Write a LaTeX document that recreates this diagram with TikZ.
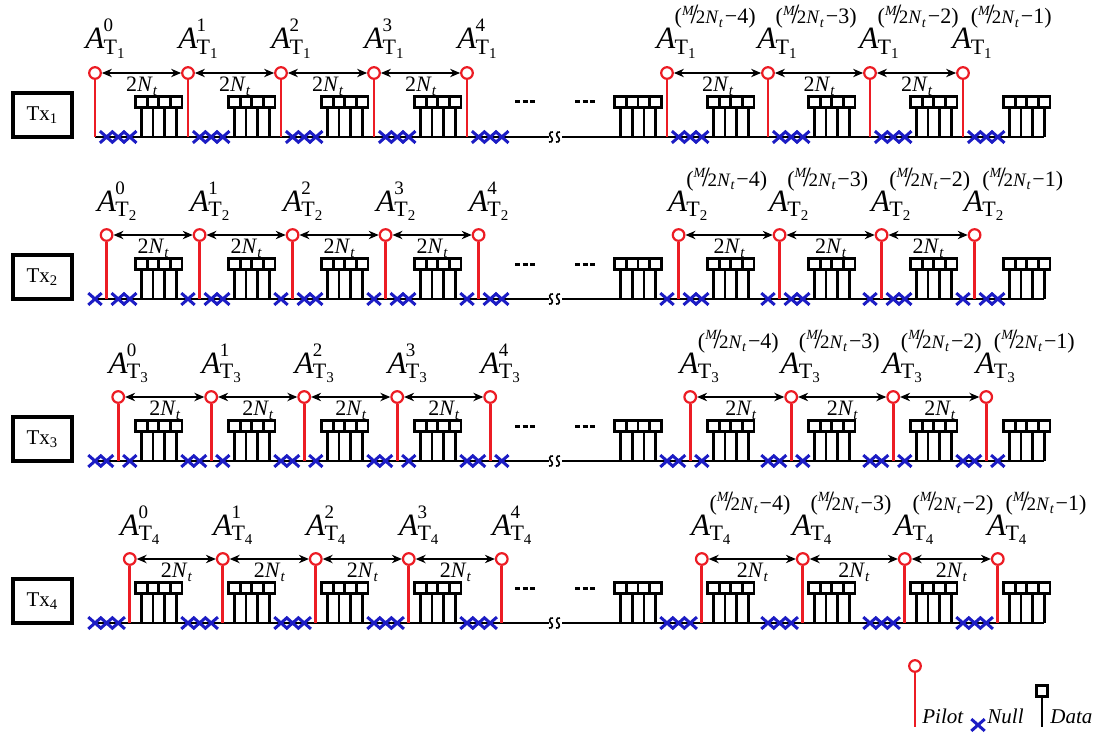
\documentclass[tikz,border=0pt]{standalone}
\usepackage{fontspec}
\setmainfont{Liberation Serif}
\usetikzlibrary{arrows.meta,shapes.misc}

\definecolor{pilotred}{RGB}{236,28,36}
\definecolor{nullblue}{RGB}{28,28,196}

% subscript T_k of the pilot labels
\newcommand{\Tsub}[1]{\raisebox{-2.6pt}{\fontsize{11}{12}\selectfont T\raisebox{-2.2pt}{\fontsize{7.5}{8}\selectfont #1}}}
% A_{T_k}^{j}
\newcommand{\Aleft}[2]{{\fontsize{15.5}{17}\selectfont\itshape A}\kern-0.3pt\rlap{\Tsub{#1}}\raisebox{8.5pt}{\fontsize{9.5}{10}\selectfont #2}}
% M/2N_t
\newcommand{\MtwoN}{\raisebox{4.5pt}{\fontsize{7}{7}\selectfont\itshape M}\kern-1.6pt{\fontsize{14}{14}\selectfont /}\kern-1.2pt{\fontsize{9.5}{10}\selectfont 2\textit{N}\raisebox{-1.6pt}{\fontsize{7}{7}\selectfont\itshape t}}}
% A_{T_k}^{(M/2N_t - j)}
\newcommand{\Aright}[2]{{\fontsize{15.5}{17}\selectfont\itshape A}\kern-0.3pt\rlap{\Tsub{#1}}\raisebox{12.5pt}{\fontsize{11}{12}\selectfont(\MtwoN\kern1pt−#2)}}
\newcommand{\twoN}{{\fontsize{11}{12}\selectfont 2\textit{N}\raisebox{-2.2pt}{\fontsize{7.5}{8}\selectfont\itshape t}}}

\begin{document}
\begin{tikzpicture}[x=0.5pt,y=-0.5pt,
  txbox/.style={draw,line width=2pt,minimum width=29.5pt,minimum height=22pt,inner sep=0pt,font=\fontsize{10.5}{12}\selectfont},
  pilot/.style={circle,draw=pilotred,fill=white,line width=1.1pt,minimum size=5.8pt,inner sep=0pt},
  pilotstem/.style={pilotred,line width=1.4pt},
  nullx/.style={cross out,draw=nullblue,line width=1.5pt,minimum width=5.2pt,minimum height=4.4pt,inner sep=0pt},
  databox/.style={draw,line width=1.4pt,minimum size=5.8pt,inner sep=0pt},
  datastem/.style={line width=1.3pt},
  timeline/.style={line width=0.8pt},
  gaparrow/.style={<->,>={Stealth[length=5pt,width=4.2pt]},line width=0.6pt},
  gapdots/.style={line width=1.5pt,dash pattern=on 2.6pt off 1.2pt},
  lab/.style={anchor=base west,inner sep=0pt},
  legtext/.style={anchor=base west,inner sep=0pt,font=\fontsize{10.5}{12}\selectfont\itshape}]
\useasboundingbox (0,0) rectangle (1102,733);

% one row per transmitter
\foreach \r in {1,2,3,4} {
  \pgfmathsetmacro{\yb}{137+162*(\r-1)}
  \node[txbox] (tx\r) at (42.5,\yb-22) {Tx\textsubscript{\r}};
  \coordinate (base\r) at (95,\yb);
  \coordinate (brk\r) at (555,\yb);
  \coordinate (end\r) at (1044,\yb);
  \draw[timeline] (base\r) -- ([xshift=-3pt]brk\r);
  \draw[timeline] ([xshift=3.5pt]brk\r) -- (end\r);
  \foreach \bx in {551,558} {
    \draw[timeline] (\bx+2,\yb-5) .. controls (\bx-2,\yb-6) and (\bx-2,\yb-1) .. (\bx,\yb)
      .. controls (\bx+2,\yb+1) and (\bx+2,\yb+6) .. (\bx-2,\yb+5);
  }
  \draw[gapdots] (515,\yb-35) -- (535,\yb-35);
  \draw[gapdots] (575,\yb-35) -- (595,\yb-35);
  % data block left of the gap
  \foreach \s in {-4,...,-1} {
    \node[databox] (e\r\s) at (667+11.6*\s,\yb-35) {};
    \draw[datastem] (e\r\s) -- (e\r\s |- base\r);
  }
  % pilot periods
  \foreach \j/\px/\kind/\idx in {0/95/l/0,1/188/l/1,2/281/l/2,3/374/l/3,4/467/l/4,
                                 5/667/r/4,6/768/r/3,7/870/r/2,8/963/r/1} {
    \pgfmathsetmacro{\xp}{\px+11.6*(\r-1)}
    \foreach \s in {0,...,3} {
      \ifnum\s=\numexpr\r-1\relax\else
        \node[nullx] (n\r-\j-\s) at (\px+11.6*\s,\yb) {};
      \fi
    }
    \ifnum\j=4\else
      \foreach \s in {4,...,7} {
        \node[databox] (d\r-\j-\s) at (\px+11.6*\s,\yb-35) {};
        \draw[datastem] (d\r-\j-\s) -- (d\r-\j-\s |- base\r);
      }
    \fi
    \node[pilot] (p\r-\j) at (\xp,\yb-64) {};
    \draw[pilotstem] (p\r-\j) -- (p\r-\j |- base\r);
    \if l\kind
      \node[lab] (a\r-\j) at (\xp-10,\yb-88) {\Aleft{\r}{\idx}};
    \else
      \node[lab] (a\r-\j) at (\xp-11,\yb-88) {\Aright{\r}{\idx}};
    \fi
  }
  \foreach \j [evaluate=\j as \k using int(\j+1)] in {0,1,2,3,5,6,7} {
    \draw[gaparrow] (p\r-\j) -- (p\r-\k)
      node[midway,below=1.5pt,inner sep=0pt] (w\r-\j) {\twoN};
  }
}

% legend
\node[pilot] (lgp) at (915,666) {};
\coordinate (lgb) at (915,727);
\draw[pilotstem] (lgp) -- (lgb);
\node[legtext] (lgpt) at (922,723) {Pilot};
\node[nullx] (lgn) at (978,725) {};
\node[legtext] (lgnt) at (987,723) {Null};
\node[databox] (lgd) at (1042,691) {};
\draw[datastem] (lgd) -- (lgd |- lgb);
\node[legtext] (lgdt) at (1050,723) {Data};
\end{tikzpicture}
\end{document}
